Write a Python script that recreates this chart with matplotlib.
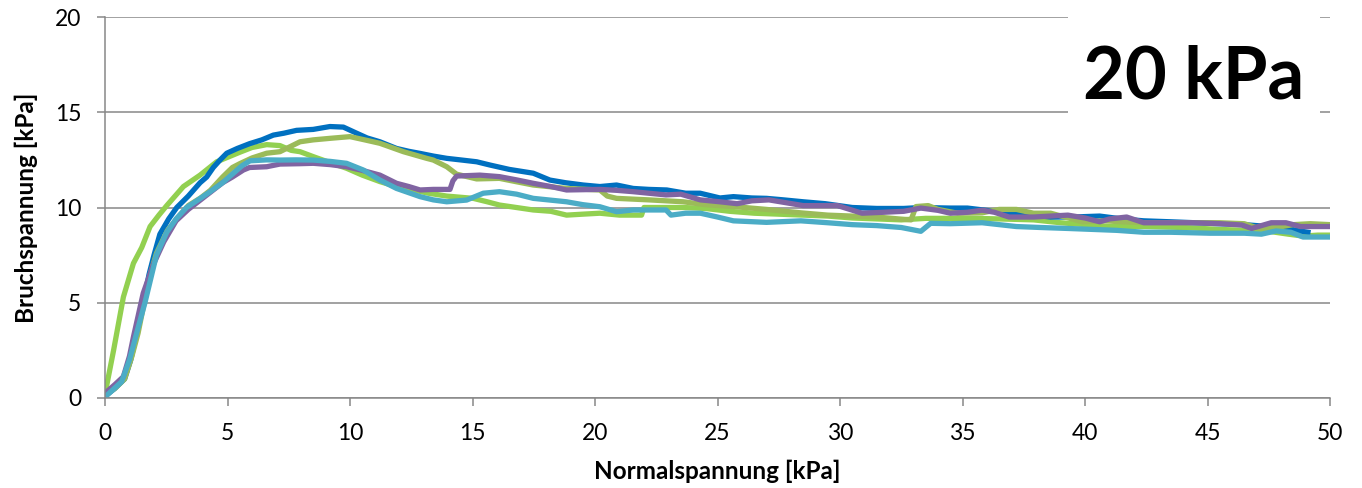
import matplotlib
matplotlib.use("Agg")
import matplotlib.pyplot as plt
from matplotlib.patches import Rectangle

plt.rcParams['font.family'] = ['Lato', 'DejaVu Sans']

# Scherversuche bei 20 kPa: Bruchspannung über Normalspannung
blue_x = [0, 0.4, 0.8, 1.05, 1.3, 1.56, 1.8, 2.0, 2.24, 2.6, 2.93, 3.4, 3.88, 4.15, 4.42, 4.7, 4.97,
          5.4, 5.9, 6.4, 6.87, 7.3, 7.82, 8.5, 9.18, 9.73, 10.27, 10.7, 11.22, 11.9, 12.4, 12.86,
          13.4, 13.95, 14.5, 15.17, 15.71, 16.5, 17.48, 18.16, 18.8, 19.52, 20.2, 20.88, 21.56,
          22.2, 22.93, 23.7, 24.29, 25.1, 25.65, 26.4, 27.0, 27.7, 28.5, 29.4, 30.5, 31.5, 32.6,
          33.3, 34.5, 35.2, 36.5, 37.5, 38.6, 39.5, 40.6, 41.5, 42.4, 43.5, 44.5, 45.5, 46.5,
          47.5, 48.2, 48.6, 49.1]
blue_y = [0.1, 0.5, 1.0, 2.0, 3.4, 5.0, 6.5, 7.5, 8.6, 9.4, 10.0, 10.6, 11.3, 11.6, 12.1, 12.5, 12.85,
          13.1, 13.35, 13.55, 13.8, 13.9, 14.05, 14.1, 14.25, 14.22, 13.9, 13.65, 13.45, 13.1, 12.95,
          12.84, 12.7, 12.58, 12.5, 12.4, 12.23, 12.0, 11.8, 11.44, 11.3, 11.18, 11.1, 11.18, 11.0,
          10.95, 10.92, 10.75, 10.75, 10.5, 10.57, 10.5, 10.48, 10.4, 10.3, 10.2, 10.0, 9.95, 9.95,
          10.0, 9.97, 9.97, 9.77, 9.65, 9.5, 9.5, 9.55, 9.4, 9.3, 9.25, 9.2, 9.15, 9.1,
          9.0, 8.95, 8.8, 8.7]

olive_x = [0, 0.4, 0.8, 1.1, 1.35, 1.6, 1.85, 2.1, 2.55, 3.0, 3.4, 3.9, 4.3, 4.8, 5.2, 5.5, 6.0,
           6.6, 7.14, 7.96, 8.5, 9.18, 10.0, 10.6, 11.22, 12.18, 13.13, 13.4, 13.95, 14.35, 15.17,
           16.1, 16.8, 17.48, 18.84, 20.2, 20.5, 20.88, 22.2, 23.6, 24.5, 25.65, 27.0, 28.4, 29.5,
           30.5, 31.5, 32.4, 32.9, 33.1, 33.6, 34.0, 34.8, 35.8, 36.5, 37.2, 37.9, 38.6, 39.9,
           40.8, 41.5, 42.5, 44.0, 45.5, 46.5, 47.1, 47.8, 48.5, 49.2, 50.0]
olive_y = [0.15, 0.5, 1.0, 2.2, 3.4, 5.0, 6.5, 7.6, 8.8, 9.5, 10.1, 10.5, 10.9, 11.6, 12.1, 12.3, 12.6,
           12.85, 12.93, 13.45, 13.55, 13.63, 13.72, 13.55, 13.37, 12.93, 12.58, 12.49, 12.14, 11.75,
           11.5, 11.53, 11.35, 11.18, 11.0, 10.92, 10.6, 10.48, 10.4, 10.3, 10.15, 10.05, 9.9, 9.72,
           9.6, 9.55, 9.5, 9.4, 9.35, 10.05, 10.1, 9.9, 9.7, 9.72, 9.9, 9.9, 9.7, 9.7, 9.25,
           9.3, 9.25, 9.2, 9.2, 9.2, 9.15, 8.9, 8.95, 9.1, 9.15, 9.1]

green_x = [0, 0.35, 0.75, 1.16, 1.5, 1.84, 2.2, 2.52, 3.2, 3.88, 4.56, 5.5, 6.0, 6.6, 7.14, 7.6,
           7.96, 8.5, 9.2, 9.86, 10.5, 11.22, 11.9, 12.58, 13.2, 13.95, 15.03, 15.6, 16.1, 17.48,
           18.2, 18.84, 19.5, 20.2, 21.0, 21.9, 22.0, 22.8, 23.6, 24.5, 25.5, 26.5, 27.5, 28.5,
           29.5, 30.5, 31.5, 32.5, 33.5, 34.5, 35.5, 36.5, 37.9, 39.0, 40.0, 41.0, 42.5, 44.0,
           45.5, 46.5, 47.5, 48.3, 48.9, 49.5, 50.0]
green_y = [0.2, 2.5, 5.3, 7.07, 7.9, 9.0, 9.6, 10.1, 11.1, 11.7, 12.4, 12.9, 13.15, 13.3, 13.25, 13.0,
           12.93, 12.67, 12.35, 12.06, 11.7, 11.36, 11.1, 10.92, 10.75, 10.6, 10.48, 10.3, 10.13, 9.87,
           9.8, 9.6, 9.65, 9.7, 9.6, 9.6, 10.0, 10.0, 10.0, 9.95, 9.8, 9.7, 9.65, 9.6,
           9.55, 9.45, 9.4, 9.35, 9.43, 9.43, 9.43, 9.4, 9.35, 9.2, 9.1, 9.0, 9.0, 8.95,
           8.85, 8.8, 8.75, 8.6, 8.5, 8.55, 8.55]

purple_x = [0, 0.4, 0.75, 1.0, 1.16, 1.56, 1.97, 2.4, 2.9, 3.4, 3.9, 4.3, 4.8, 5.2, 5.65, 5.9, 6.6,
            7.14, 7.96, 8.5, 9.2, 9.86, 10.5, 11.22, 11.9, 12.4, 12.86, 13.4, 14.08, 14.2, 14.35,
            15.3, 16.1, 16.8, 17.48, 18.2, 18.84, 20.2, 20.9, 21.56, 22.9, 23.5, 24.3, 25.1, 25.8,
            26.4, 27.1, 27.8, 28.5, 29.9, 30.9, 31.8, 32.6, 33.3, 34.0, 34.5, 35.2, 35.8, 36.3,
            36.9, 37.9, 38.6, 39.3, 40.0, 40.6, 41.0, 41.7, 42.4, 43.5, 44.4, 45.5, 46.4, 46.8,
            47.2, 47.6, 48.2, 48.8, 49.4, 50.0]
purple_y = [0.25, 0.7, 1.12, 2.2, 3.2, 5.5, 7.0, 8.2, 9.3, 9.9, 10.4, 10.8, 11.3, 11.6, 11.97, 12.1, 12.14,
            12.28, 12.3, 12.32, 12.25, 12.14, 11.95, 11.7, 11.27, 11.1, 10.92, 10.95, 10.95, 11.4, 11.65,
            11.7, 11.62, 11.45, 11.27, 11.1, 10.92, 10.95, 10.9, 10.83, 10.66, 10.7, 10.4, 10.3, 10.2,
            10.35, 10.4, 10.25, 10.1, 10.1, 9.7, 9.75, 9.8, 9.97, 9.85, 9.7, 9.75, 9.86, 9.75,
            9.5, 9.5, 9.55, 9.6, 9.45, 9.25, 9.4, 9.5, 9.2, 9.2, 9.2, 9.15, 9.08, 8.9,
            9.05, 9.2, 9.2, 9.0, 9.0, 9.0]

cyan_x = [0, 0.68, 1.0, 1.29, 1.63, 2.1, 2.52, 2.9, 3.33, 3.8, 4.29, 4.8, 5.24, 5.6, 5.92, 6.6, 7.14,
          7.8, 8.5, 9.2, 9.86, 10.54, 11.22, 11.9, 12.86, 13.4, 13.95, 14.76, 15.44, 16.1, 16.8,
          17.48, 18.84, 19.5, 20.2, 20.88, 21.56, 22.9, 23.1, 23.7, 24.3, 25.0, 25.65, 27.0, 28.4,
          29.5, 30.5, 31.5, 32.5, 33.3, 33.7, 34.5, 35.8, 36.5, 37.2, 38.2, 39.3, 40.3, 41.3,
          42.4, 43.5, 45.1, 46.5, 47.2, 47.8, 48.4, 48.9, 49.5, 50.0]
cyan_y = [0.05, 0.86, 2.0, 3.4, 5.0, 7.5, 8.7, 9.4, 10.0, 10.4, 10.83, 11.3, 11.8, 12.2, 12.45, 12.5, 12.49,
          12.5, 12.49, 12.42, 12.32, 11.97, 11.44, 11.0, 10.57, 10.4, 10.3, 10.39, 10.75, 10.83, 10.7,
          10.48, 10.3, 10.15, 10.04, 9.78, 9.87, 9.87, 9.6, 9.7, 9.7, 9.5, 9.3, 9.22, 9.3,
          9.2, 9.1, 9.05, 8.95, 8.75, 9.17, 9.15, 9.2, 9.1, 9.0, 8.95, 8.9, 8.85, 8.8,
          8.7, 8.7, 8.65, 8.65, 8.6, 8.77, 8.7, 8.45, 8.45, 8.45]

x_ticks = [0, 5, 10, 15, 20, 25, 30, 35, 40, 45, 50]
y_ticks = [0, 5, 10, 15, 20]

fig = plt.figure(figsize=(13.62, 4.88), dpi=100)
ax = fig.add_axes([105 / 1362, 90 / 488, 1225 / 1362, 381 / 488])

lw = 3.8
ax.plot(green_x, green_y, color='#92D050', lw=lw, solid_joinstyle='round', zorder=2)
ax.plot(blue_x, blue_y, color='#0070C0', lw=lw, solid_joinstyle='round', zorder=2.1)
ax.plot(olive_x, olive_y, color='#9BBB59', lw=lw, solid_joinstyle='round', zorder=2.2)
ax.plot(purple_x, purple_y, color='#8064A2', lw=lw, solid_joinstyle='round', zorder=2.3)
ax.plot(cyan_x, cyan_y, color='#4BACC6', lw=lw, solid_joinstyle='round', zorder=2.4)

ax.set_xlim(0, 50)
ax.set_ylim(0, 20)
ax.set_xticks(x_ticks)
ax.set_yticks(y_ticks)

grid_c = '#878787'
ax.set_axisbelow(True)
ax.yaxis.grid(True, color=grid_c, lw=1.1)
for s in ('top', 'right'):
    ax.spines[s].set_visible(False)
for s in ('left', 'bottom'):
    ax.spines[s].set_color(grid_c)
    ax.spines[s].set_linewidth(1.1)
ax.tick_params(axis='both', colors=grid_c, width=1.1, length=6, labelcolor='black', labelsize=16.5)
ax.tick_params(axis='x', pad=12)
ax.tick_params(axis='y', pad=11)

ax.set_xlabel('Normalspannung [kPa]', fontsize=17.5, fontweight='bold', labelpad=11)
ax.set_ylabel('Bruchspannung [kPa]', fontsize=17.5, fontweight='bold', labelpad=12)

# white field behind the pressure label
ax.add_patch(Rectangle((0.786, 0.70), 0.206, 0.33, transform=ax.transAxes,
                       facecolor='white', edgecolor='none', clip_on=False, zorder=1))
ax.text(0.889, 0.84, '20 kPa', transform=ax.transAxes, ha='center', va='center',
        fontsize=52, fontweight='bold', color='black', zorder=3)

fig.savefig('out.png', dpi=100)
